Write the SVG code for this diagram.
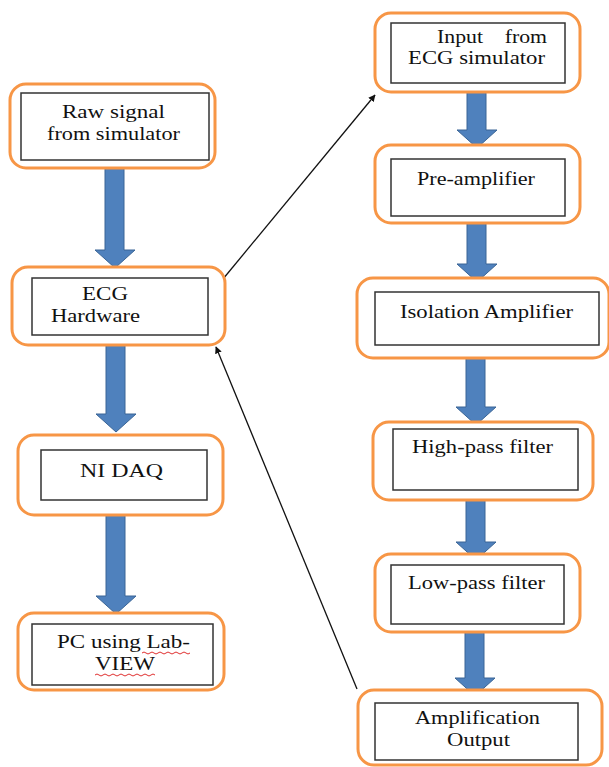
<svg xmlns="http://www.w3.org/2000/svg" width="609" height="767" viewBox="0 0 609 767">
<defs>
<style>
.outer{fill:#fff;stroke:#F79646;stroke-width:3}
.inner{fill:#fff;stroke:#333;stroke-width:1.5}
.t{font-family:"Liberation Serif","Times New Roman",serif;font-size:19px;fill:#111}
.blk{fill:#4F81BD;stroke:#3A6596;stroke-width:1}
.thin{stroke:#111;stroke-width:1.3;fill:none}
.squig{stroke:#E03030;stroke-width:1;fill:none}
</style>
<marker id="ah" viewBox="0 0 10 10" refX="9" refY="5" markerWidth="7" markerHeight="7" orient="auto" markerUnits="userSpaceOnUse">
<path d="M0,0 L10,5 L0,10 z" fill="#111"/>
</marker>
</defs>
<rect width="609" height="767" fill="#fff"/>

<g id="connectors">
<path class="blk" d="M105,167 H124 V250 H135 L115,268 L95,250 H105 Z"/>
<path class="blk" d="M106,345 H125 V414 H136 L116,432 L96,414 H106 Z"/>
<path class="blk" d="M106,515 H125 V596 H136 L116,614 L96,596 H106 Z"/>
<path class="blk" d="M467,92 H486 V130 H497 L477,148 L457,130 H467 Z"/>
<path class="blk" d="M467,223 H486 V264 H497 L477,282 L457,264 H467 Z"/>
<path class="blk" d="M466,358 H485 V407 H496 L476,425 L456,407 H466 Z"/>
<path class="blk" d="M466,500 H485 V542 H496 L476,560 L456,542 H466 Z"/>
<path class="blk" d="M465,632 H484 V678 H495 L475,696 L455,678 H465 Z"/>
<line class="thin" x1="223" y1="279" x2="375" y2="95" marker-end="url(#ah)"/>
<line class="thin" x1="357" y1="689" x2="216" y2="347" marker-end="url(#ah)"/>
</g>

<g id="raw-signal">
<rect class="outer" x="10" y="84" width="205" height="84" rx="16"/>
<rect class="inner" x="21" y="93" width="188" height="67"/>
<text class="t" x="62" y="118" textLength="103" lengthAdjust="spacingAndGlyphs">Raw signal</text>
<text class="t" x="47" y="140" textLength="133" lengthAdjust="spacingAndGlyphs">from simulator</text>
</g>

<g id="ecg-hardware">
<rect class="outer" x="12" y="267" width="213" height="78" rx="16"/>
<rect class="inner" x="32" y="278" width="176" height="57"/>
<text class="t" x="82" y="300" textLength="46" lengthAdjust="spacingAndGlyphs">ECG</text>
<text class="t" x="51" y="322" textLength="89" lengthAdjust="spacingAndGlyphs">Hardware</text>
</g>

<g id="ni-daq">
<rect class="outer" x="18" y="435" width="205" height="80" rx="16"/>
<rect class="inner" x="41" y="450" width="166" height="50"/>
<text class="t" x="80" y="477" textLength="83" lengthAdjust="spacingAndGlyphs">NI DAQ</text>
</g>

<g id="pc-labview">
<rect class="outer" x="18" y="613" width="206" height="77" rx="16"/>
<rect class="inner" x="32" y="624" width="181" height="61"/>
<text class="t" x="57" y="648" textLength="133" lengthAdjust="spacingAndGlyphs">PC using Lab-</text>
<text class="t" x="95" y="670" textLength="60" lengthAdjust="spacingAndGlyphs">VIEW</text>
<path class="squig" d="M142,653 q2,-2 4,0 t4,0 t4,0 t4,0 t4,0 t4,0 t4,0 t4,0 t4,0 t4,0 t4,0 t4,0"/>
<path class="squig" d="M95,675 q2,-2 4,0 t4,0 t4,0 t4,0 t4,0 t4,0 t4,0 t4,0 t4,0 t4,0 t4,0 t4,0 t4,0 t4,0 t4,0"/>
</g>

<g id="input-ecg-sim">
<rect class="outer" x="375" y="13" width="205" height="79" rx="16"/>
<rect class="inner" x="391" y="23" width="174" height="60"/>
<text class="t" x="437" y="43" textLength="110" lengthAdjust="spacingAndGlyphs" xml:space="preserve">Input    from</text>
<text class="t" x="408" y="64" textLength="137" lengthAdjust="spacingAndGlyphs">ECG simulator</text>
</g>

<g id="pre-amplifier">
<rect class="outer" x="375" y="145" width="205" height="78" rx="16"/>
<rect class="inner" x="391" y="159" width="174" height="57"/>
<text class="t" x="417" y="185" textLength="118" lengthAdjust="spacingAndGlyphs">Pre-amplifier</text>
</g>

<g id="isolation-amplifier">
<rect class="outer" x="357" y="278" width="252" height="80" rx="16"/>
<rect class="inner" x="375" y="292" width="224" height="53"/>
<text class="t" x="400" y="318" textLength="173" lengthAdjust="spacingAndGlyphs">Isolation Amplifier</text>
</g>

<g id="high-pass">
<rect class="outer" x="373" y="422" width="220" height="78" rx="16"/>
<rect class="inner" x="393" y="429" width="185" height="61"/>
<text class="t" x="412" y="453" textLength="141" lengthAdjust="spacingAndGlyphs">High-pass filter</text>
</g>

<g id="low-pass">
<rect class="outer" x="375" y="554" width="205" height="78" rx="16"/>
<rect class="inner" x="391" y="565" width="173" height="59"/>
<text class="t" x="408" y="589" textLength="137" lengthAdjust="spacingAndGlyphs">Low-pass filter</text>
</g>

<g id="amplification-output">
<rect class="outer" x="358" y="690" width="244" height="75" rx="16"/>
<rect class="inner" x="375" y="703" width="203" height="57"/>
<text class="t" x="415" y="724" textLength="125" lengthAdjust="spacingAndGlyphs">Amplification</text>
<text class="t" x="447" y="746" textLength="63" lengthAdjust="spacingAndGlyphs">Output</text>
</g>
</svg>
